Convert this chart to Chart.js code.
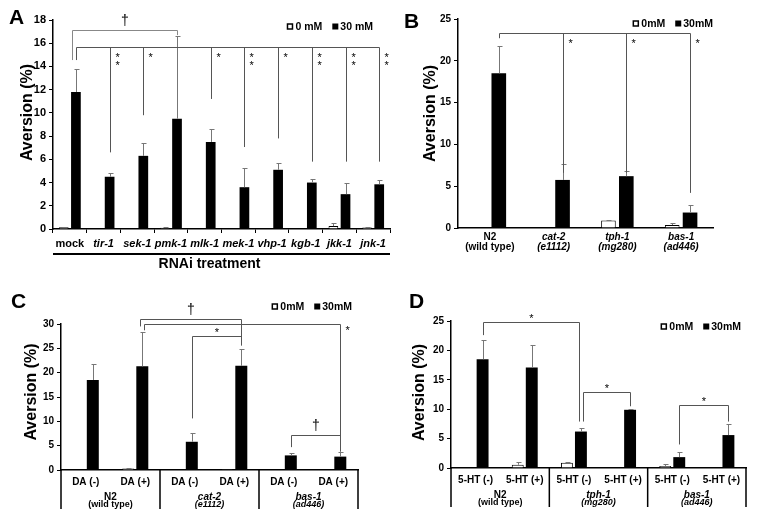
<!DOCTYPE html>
<html>
<head>
<meta charset="utf-8">
<script src="https://cdn.jsdelivr.net/npm/chart.js@4.4.1/dist/chart.umd.min.js"></script>
<style>
  html, body { margin: 0; padding: 0; background: #fff; }
  #wrap { position: relative; width: 758px; height: 526px; }
  #wrap canvas { position: absolute; left: 0; top: 0; }
</style>
</head>
<body>
<div id="wrap">
  <canvas id="cA" width="758" height="526"></canvas>
  <canvas id="cB" width="758" height="526"></canvas>
  <canvas id="cC" width="758" height="526"></canvas>
  <canvas id="cD" width="758" height="526"></canvas>
</div>
<script>
// ── Data ──
// A: RNAi treatment
const catsA = ['mock', 'tir-1', 'sek-1', 'pmk-1', 'mlk-1', 'mek-1', 'vhp-1', 'kgb-1', 'jkk-1', 'jnk-1'];
const a0 = [0.15, 0, 0, 0.1, 0, 0, 0, 0, 0.25, 0.12];
const a0err = [0.05, 0, 0, 0.03, 0, 0, 0, 0, 0.25, 0.06];
const a30 = [11.8, 4.5, 6.3, 9.5, 7.5, 3.6, 5.1, 4.0, 3.0, 3.85];
const a30err = [2.0, 0.35, 1.1, 7.1, 1.15, 1.65, 0.55, 0.3, 0.95, 0.4];
const yTicksA = [0, 2, 4, 6, 8, 10, 12, 14, 16, 18];
const legendA = ['0 mM', '30 mM'];

// B: mutants
const catsB = [['N2', '(wild type)'], ['cat-2', '(e1112)'], ['tph-1', '(mg280)'], ['bas-1', '(ad446)']];
const b0 = [0, 0, 0.9, 0.35];
const b0err = [0, 0, 0.08, 0.3];
const b30 = [18.5, 5.75, 6.2, 1.85];
const b30err = [3.3, 1.9, 0.6, 0.85];
const yTicksB = [0, 5, 10, 15, 20, 25];
const legendB = ['0mM', '30mM'];

// C: dopamine rescue
const catsC = ['DA (-)', 'DA (+)', 'DA (-)', 'DA (+)', 'DA (-)', 'DA (+)'];
const groupsC = [['N2', '(wild type)'], ['cat-2', '(e1112)'], ['bas-1', '(ad446)']];
const c0 = [0, 0.3, 0, 0.05, 0, 0.15];
const c0err = [0, 0.05, 0, 0, 0, 0];
const c30 = [18.5, 21.3, 5.8, 21.4, 3.0, 2.75];
const c30err = [3.2, 7.1, 1.75, 3.5, 0.5, 0.95];
const yTicksC = [0, 5, 10, 15, 20, 25, 30];

// D: serotonin rescue
const catsD = ['5-HT (-)', '5-HT (+)', '5-HT (-)', '5-HT (+)', '5-HT (-)', '5-HT (+)'];
const groupsD = [['N2', '(wild type)'], ['tph-1', '(mg280)'], ['bas-1', '(ad446)']];
const d0 = [0, 0.55, 0.9, 0, 0.35, 0];
const d0err = [0, 0.45, 0.05, 0, 0.3, 0];
const d30 = [18.5, 17.1, 6.2, 9.9, 1.85, 5.6];
const d30err = [3.3, 3.8, 0.6, 0.05, 0.85, 1.8];
const yTicksD = [0, 5, 10, 15, 20, 25];

// significance brackets (category index, heights in data units)
const bracketsA = [{ a: 0, b: 3, y: 17.1, ya: 14.55, yb: 16.7, mark: '†', dxa: -4, color: '#888' }];
const combA = { from: 0, y: 15.7, yFrom: 14.55, drops: [[1, 6.6, '**'], [2, 9.8, '*'], [4, 11.2, '*'], [5, 7.06, '**'], [6, 7.8, '*'], [7, 5.8, '**'], [8, 5.8, '**'], [9, 5.8, '**']] };
const combB = { from: 0, y: 23.3, yFrom: 22.7, drops: [[1, 6.6, '*'], [2, 6.6, '*'], [3, 4.2, '*']] };
const bracketsC = [
  { a: 1, b: 3, y: 31.0, ya: 29.5, yb: 25.6, mark: '†', dxa: -2 },
  { a: 2, b: 3, y: 27.6, ya: 10.6, yb: 25.6, mark: '*' },
  { a: 4, b: 5, y: 7.1, ya: 4.7, yb: 3.8, mark: '†' }
];
const combC = { from: 1, dx: 2, y: 30.0, yFrom: 28.7, drops: [[5, 3.8, '*']] };
const bracketsD = [
  { a: 0, b: 2, y: 24.9, ya: 22.6, yb: 7.9, mark: '*', dxb: -2 },
  { a: 2, b: 3, y: 13.0, ya: 7.9, yb: 10.5, mark: '*', dxa: 2 },
  { a: 4, b: 5, y: 10.75, ya: 4.0, yb: 7.9, mark: '*' }
];

const FONT = "'Liberation Sans', Arial, Helvetica, sans-serif";
Chart.defaults.font.family = FONT;
Chart.defaults.color = '#000';

const px = v => Math.round(v) + 0.5;

// ── Error bars (upper only, with cap) ──
const errorBars = {
  id: 'errorBars',
  afterDatasetsDraw(chart) {
    const ctx = chart.ctx;
    const ys = chart.scales.y;
    ctx.save();
    ctx.strokeStyle = '#777';
    ctx.lineWidth = 1;
    chart.data.datasets.forEach((ds, i) => {
      const meta = chart.getDatasetMeta(i);
      ds.errors.forEach((e, j) => {
        if (!e) return;
        const bx = px(meta.data[j].x);
        const y1 = ys.getPixelForValue(ds.data[j]);
        const y2 = px(ys.getPixelForValue(ds.data[j] + e));
        ctx.beginPath();
        ctx.moveTo(bx, y1);
        ctx.lineTo(bx, y2);
        ctx.moveTo(bx - 2, y2);
        ctx.lineTo(bx + 3, y2);
        ctx.stroke();
      });
    });
    ctx.restore();
  }
};

function drawMark(ctx, mark, x, y, align) {
  ctx.textAlign = align;
  ctx.textBaseline = 'middle';
  if (mark === '†') {
    ctx.font = '14px ' + FONT;
    ctx.fillText(mark, x, y);
  } else if (mark === '**') {
    ctx.font = '11px ' + FONT;
    ctx.fillText('*', x, y);
    ctx.fillText('*', x, y + 8);
  } else {
    ctx.font = '11px ' + FONT;
    ctx.fillText(mark, x, y);
  }
}

// ── Decorations: labels, legend, brackets, group axis ──
function decor(p) {
  return {
    id: 'decor' + p.letter,
    afterDraw(chart) {
      const ctx = chart.ctx;
      const ca = chart.chartArea;
      const xs = chart.scales.x;
      const ys = chart.scales.y;
      const barX = i => chart.getDatasetMeta(1).data[i].x;
      ctx.save();
      ctx.fillStyle = '#000';

      // panel letter
      ctx.font = 'bold 21px ' + FONT;
      ctx.textAlign = 'left';
      ctx.textBaseline = 'middle';
      ctx.fillText(p.letter, p.letterX, p.letterY);

      // y label
      ctx.save();
      ctx.translate(ca.left - p.ylabDx, (ca.top + ca.bottom) / 2 + p.ylabDy);
      ctx.rotate(-Math.PI / 2);
      ctx.font = 'bold 16px ' + FONT;
      ctx.textAlign = 'center';
      ctx.fillText('Aversion (%)', 0, 0);
      ctx.restore();

      // legend
      const names = chart.data.datasets.map(d => d.label);
      ctx.font = 'bold 10.5px ' + FONT;
      const w1 = ctx.measureText(names[1]).width;
      const w0 = ctx.measureText(names[0]).width;
      const ly = ca.top + p.legDy;
      let lx = ca.right + p.legDx - w1;
      ctx.textAlign = 'left';
      ctx.fillText(names[1], lx, ly);
      ctx.fillRect(lx - 8, ly - 3.5, 6, 6);
      lx = lx - 8 - 10 - w0;
      ctx.fillText(names[0], lx, ly);
      ctx.lineWidth = 1.5;
      ctx.strokeStyle = '#000';
      ctx.strokeRect(lx - 8, ly - 3, 5, 5);

      // brackets
      ctx.lineWidth = 1;
      (p.brackets || []).forEach(b => {
        const x1 = px(barX(b.a) + (b.dxa || 0));
        const x2 = px(barX(b.b) + (b.dxb || 0));
        const yl = px(ys.getPixelForValue(b.y));
        ctx.strokeStyle = b.color || '#555';
        ctx.beginPath();
        ctx.moveTo(x1, ys.getPixelForValue(b.ya));
        ctx.lineTo(x1, yl);
        ctx.lineTo(x2, yl);
        ctx.lineTo(x2, ys.getPixelForValue(b.yb));
        ctx.stroke();
        drawMark(ctx, b.mark, (x1 + x2) / 2, yl + (b.mark === '†' ? -9 : -4), 'center');
      });

      // comb brackets (one reference vs many)
      if (p.comb) {
        const c = p.comb;
        const yl = px(ys.getPixelForValue(c.y));
        const x0 = px(barX(c.from) + (c.dx || 0));
        const last = c.drops[c.drops.length - 1];
        ctx.strokeStyle = '#555';
        ctx.beginPath();
        ctx.moveTo(x0, ys.getPixelForValue(c.yFrom));
        ctx.lineTo(x0, yl);
        ctx.lineTo(px(barX(last[0])), yl);
        c.drops.forEach(d => {
          const dxp = px(barX(d[0]));
          ctx.moveTo(dxp, yl);
          ctx.lineTo(dxp, ys.getPixelForValue(d[1]));
        });
        ctx.stroke();
        c.drops.forEach(d => {
          drawMark(ctx, d[2], px(barX(d[0])) + 5, yl + p.combMarkDy, 'left');
        });
      }

      // grouped x axis (C, D)
      if (p.groups) {
        const half = (xs.getPixelForValue(1) - xs.getPixelForValue(0)) / 2;
        ctx.strokeStyle = '#000';
        ctx.lineWidth = 1.5;
        ctx.beginPath();
        for (let g = 0; g <= p.groups.length; g++) {
          let sx = g === 0 ? ca.left : (g === p.groups.length ? ca.right : xs.getPixelForValue(g * 2) - half);
          ctx.moveTo(sx, ca.bottom);
          ctx.lineTo(sx, ca.bottom + 39);
        }
        ctx.stroke();
        ctx.textAlign = 'center';
        p.groups.forEach((g, gi) => {
          const cx = (xs.getPixelForValue(gi * 2) + xs.getPixelForValue(gi * 2 + 1)) / 2;
          const st = gi === 0 ? '' : 'italic ';
          ctx.font = st + 'bold 10px ' + FONT;
          ctx.fillText(g[0], cx, ca.bottom + 27);
          ctx.font = st + 'bold 9px ' + FONT;
          ctx.fillText(g[1], cx, ca.bottom + 35);
        });
      }

      // A: treatment caption
      if (p.caption) {
        ctx.strokeStyle = '#000';
        ctx.lineWidth = 2;
        ctx.beginPath();
        ctx.moveTo(ca.left, ca.bottom + 25);
        ctx.lineTo(ca.right, ca.bottom + 25);
        ctx.stroke();
        ctx.font = 'bold 14px ' + FONT;
        ctx.textAlign = 'center';
        ctx.fillText(p.caption, (ca.left + ca.right) / 2 - 12, ca.bottom + 35);
      }
      ctx.restore();
    }
  };
}

function makePanel(p) {
  return new Chart(document.getElementById(p.id), {
    type: 'bar',
    data: {
      labels: p.cats,
      datasets: [
        { label: p.legend[0], data: p.v0, errors: p.e0, backgroundColor: '#fff', borderColor: '#000', borderWidth: 1 },
        { label: p.legend[1], data: p.v30, errors: p.e30, backgroundColor: '#000', borderColor: '#000', borderWidth: 0 }
      ]
    },
    options: {
      responsive: false,
      animation: false,
      devicePixelRatio: 1,
      layout: { padding: { left: p.padL, right: 758 - p.area.r, top: p.area.t, bottom: 526 - p.area.b - p.xh } },
      datasets: { bar: { categoryPercentage: p.catPct, barPercentage: p.barPct } },
      plugins: { legend: { display: false }, tooltip: { enabled: false } },
      scales: {
        x: {
          afterFit: s => { s.height = p.xh; },
          grid: p.xTickMarks
            ? { display: true, drawOnChartArea: false, drawTicks: true, tickLength: 4, color: '#000' }
            : { display: false, drawTicks: false, tickLength: 0 },
          border: { color: '#000', width: 1.5 },
          ticks: { font: p.xFont, padding: p.xPad, maxRotation: 0, autoSkip: false, color: '#000' }
        },
        y: {
          min: 0,
          max: p.yticks[p.yticks.length - 1],
          afterFit: s => { s.width = p.area.l - p.padL; },
          afterBuildTicks: s => { s.ticks = p.yticks.map(v => ({ value: v })); },
          grid: { display: true, drawOnChartArea: false, drawTicks: true, tickLength: 4, color: '#000' },
          border: { color: '#000', width: 1.5 },
          ticks: { font: { size: p.ySize, weight: 'bold' }, padding: 3, color: '#000' }
        }
      }
    },
    plugins: [errorBars, decor(p)]
  });
}

const italicAfterFirst = size => c => ({ size: size, weight: 'bold', style: c.index === 0 ? 'normal' : 'italic', lineHeight: 1.0 });

makePanel({
  id: 'cA', letter: 'A', letterX: 9, letterY: 18,
  cats: catsA, v0: a0, e0: a0err, v30: a30, e30: a30err, yticks: yTicksA, legend: legendA,
  area: { l: 53, r: 390, t: 20, b: 229 }, padL: 0, xh: 30, catPct: 0.72, barPct: 0.8,
  ySize: 11, xFont: italicAfterFirst(11), xPad: 5, xTickMarks: true,
  ylabDx: 25, ylabDy: -12, legDx: -17, legDy: 7,
  brackets: bracketsA, comb: combA, combMarkDy: 10, caption: 'RNAi treatment'
});

makePanel({
  id: 'cB', letter: 'B', letterX: 404, letterY: 22,
  cats: catsB, v0: b0, e0: b0err, v30: b30, e30: b30err, yticks: yTicksB, legend: legendB,
  area: { l: 458, r: 713, t: 19, b: 228 }, padL: 400, xh: 30, catPct: 0.56, barPct: 0.82,
  ySize: 10, xFont: italicAfterFirst(10), xPad: 4, xTickMarks: false,
  ylabDx: 27, ylabDy: -10, legDx: 0, legDy: 5,
  comb: combB, combMarkDy: 10
});

makePanel({
  id: 'cC', letter: 'C', letterX: 11, letterY: 302,
  cats: catsC, v0: c0, e0: c0err, v30: c30, e30: c30err, yticks: yTicksC, legend: legendB,
  area: { l: 61, r: 358, t: 324, b: 470 }, padL: 0, xh: 20, catPct: 0.57, barPct: 0.85,
  ySize: 10, xFont: { size: 10, weight: 'bold' }, xPad: 6, xTickMarks: false,
  ylabDx: 29, ylabDy: -5, legDx: -6, legDy: -17,
  brackets: bracketsC, comb: combC, combMarkDy: 6, groups: groupsC
});

makePanel({
  id: 'cD', letter: 'D', letterX: 409, letterY: 302,
  cats: catsD, v0: d0, e0: d0err, v30: d30, e30: d30err, yticks: yTicksD, legend: legendB,
  area: { l: 451, r: 746, t: 321, b: 468 }, padL: 400, xh: 20, catPct: 0.57, barPct: 0.85,
  ySize: 10, xFont: { size: 10, weight: 'bold' }, xPad: 6, xTickMarks: false,
  ylabDx: 31, ylabDy: -2, legDx: -5, legDy: 6,
  brackets: bracketsD, groups: groupsD
});
</script>
</body>
</html>
